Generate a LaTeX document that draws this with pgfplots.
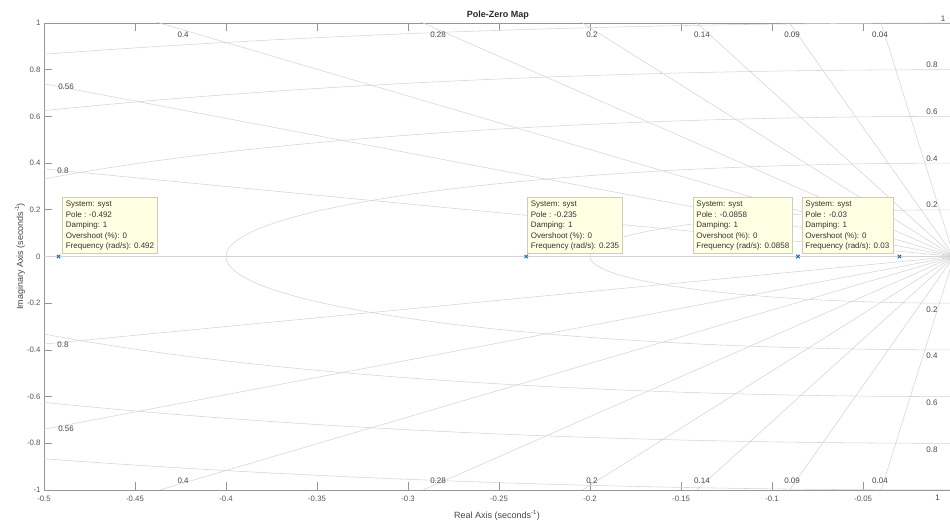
\documentclass[border=0pt]{standalone}
\usepackage{pgfplots}
\pgfplotsset{compat=1.18}
\usepackage{fontspec}
\setmainfont{Liberation Sans}
\definecolor{gridc}{RGB}{212,212,212}
\definecolor{tickc}{RGB}{85,85,85}
\definecolor{labc}{RGB}{70,70,70}
\definecolor{axc}{RGB}{150,150,150}
\definecolor{tipbg}{RGB}{255,255,228}
\definecolor{tipbd}{RGB}{205,205,190}
\definecolor{polec}{RGB}{0,114,189}
\tikzset{
  glab/.style={font=\fontsize{8}{9}\selectfont, text=labc, inner sep=0pt},
  tip/.style={draw=tipbd, fill=tipbg, font=\fontsize{8}{10.5}\selectfont, align=left, inner sep=3.5pt, text=black!80, line width=0.5pt},
}
\begin{document}
\begin{tikzpicture}
\useasboundingbox (-44pt,-32pt) rectangle (906pt,490pt);
\begin{axis}[
  at={(0pt,0pt)}, anchor=south west,
  scale only axis, width=906pt, height=467pt,
  xmin=-0.5, xmax=-0.0022, ymin=-1, ymax=1,
  axis x line*=box, axis y line*=left,
  axis line style={axc, line width=0.6pt, -},
  tick align=inside, major tick length=8pt,
  tick style={axc, line width=0.6pt},
  xtick={-0.5,-0.45,-0.4,-0.35,-0.3,-0.25,-0.2,-0.15,-0.1,-0.05},
  xticklabels={-0.5,-0.45,-0.4,-0.35,-0.3,-0.25,-0.2,-0.15,-0.1,-0.05},
  ytick={-1,-0.8,-0.6,-0.4,-0.2,0,0.2,0.4,0.6,0.8,1},
  yticklabels={-1,-0.8,-0.6,-0.4,-0.2,0,0.2,0.4,0.6,0.8,1},
  ticklabel style={font=\fontsize{7.8}{9}\selectfont, text=tickc},
  xticklabel style={yshift=-3pt},
  xlabel={Real Axis (seconds\textsuperscript{-1})},
  xlabel style={font=\fontsize{9}{10}\selectfont, text=labc, at={(0.5,-0.0535)}, anchor=center},
  ylabel={Imaginary Axis (seconds\textsuperscript{-1})},
  ylabel style={font=\fontsize{9}{10}\selectfont, text=labc, at={(-0.0265,0.5)}, anchor=center},
]
% natural frequency circles
\draw[gridc, line width=0.55pt] (axis cs:0,0) ellipse [x radius=0.2, y radius=0.2];
\draw[gridc, line width=0.55pt] (axis cs:0,0) ellipse [x radius=0.4, y radius=0.4];
\draw[gridc, line width=0.55pt] (axis cs:0,0) ellipse [x radius=0.6, y radius=0.6];
\draw[gridc, line width=0.55pt] (axis cs:0,0) ellipse [x radius=0.8, y radius=0.8];
\draw[gridc, line width=0.55pt] (axis cs:0,0) ellipse [x radius=1, y radius=1];
% damping rays
\addplot[gridc, line width=0.55pt] coordinates {(0,0) (-2,0)};
\addplot[gridc, line width=0.55pt] coordinates {(-0.08,1.9984) (0,0) (-0.08,-1.9984)};
\addplot[gridc, line width=0.55pt] coordinates {(-0.18,1.9919) (0,0) (-0.18,-1.9919)};
\addplot[gridc, line width=0.55pt] coordinates {(-0.28,1.9803) (0,0) (-0.28,-1.9803)};
\addplot[gridc, line width=0.55pt] coordinates {(-0.40,1.9596) (0,0) (-0.40,-1.9596)};
\addplot[gridc, line width=0.55pt] coordinates {(-0.56,1.9200) (0,0) (-0.56,-1.9200)};
\addplot[gridc, line width=0.55pt] coordinates {(-0.80,1.8330) (0,0) (-0.80,-1.8330)};
\addplot[gridc, line width=0.55pt] coordinates {(-1.12,1.6570) (0,0) (-1.12,-1.6570)};
\addplot[gridc, line width=0.55pt] coordinates {(-1.60,1.2000) (0,0) (-1.60,-1.2000)};
% damping labels
\node[glab] at (axis cs:-0.4236,0.949) {0.4};
\node[glab] at (axis cs:-0.2835,0.949) {0.28};
\node[glab] at (axis cs:-0.1989,0.949) {0.2};
\node[glab] at (axis cs:-0.1385,0.949) {0.14};
\node[glab] at (axis cs:-0.0890,0.949) {0.09};
\node[glab] at (axis cs:-0.0407,0.949) {0.04};
\node[glab] at (axis cs:-0.4236,-0.961) {0.4};
\node[glab] at (axis cs:-0.2835,-0.961) {0.28};
\node[glab] at (axis cs:-0.1989,-0.961) {0.2};
\node[glab] at (axis cs:-0.1385,-0.961) {0.14};
\node[glab] at (axis cs:-0.0890,-0.961) {0.09};
\node[glab] at (axis cs:-0.0407,-0.961) {0.04};
\node[glab] at (axis cs:-0.4879,0.726) {0.56};
\node[glab] at (axis cs:-0.4896,0.366) {0.8};
\node[glab] at (axis cs:-0.4896,-0.379) {0.8};
\node[glab] at (axis cs:-0.4879,-0.739) {0.56};
% frequency labels
\node[glab] at (axis cs:-0.0121,0.820) {0.8};
\node[glab] at (axis cs:-0.0121,0.619) {0.6};
\node[glab] at (axis cs:-0.0121,0.418) {0.4};
\node[glab] at (axis cs:-0.0121,0.221) {0.2};
\node[glab] at (axis cs:-0.0121,-0.226) {0.2};
\node[glab] at (axis cs:-0.0121,-0.426) {0.4};
\node[glab] at (axis cs:-0.0121,-0.627) {0.6};
\node[glab] at (axis cs:-0.0121,-0.829) {0.8};
\coordinate (fone) at (axis cs:-0.0060,1.020);
\coordinate (fonb) at (axis cs:-0.0090,-1.034);
\coordinate (ttl) at (rel axis cs:0.501,1);
% data tips
\node[tip, anchor=south west] at (axis cs:-0.4901,0.011) {System: syst\\Pole : -0.492\\Damping: 1\\Overshoot (\%): 0\\Frequency (rad/s): 0.492};
\node[tip, anchor=south west] at (axis cs:-0.2346,0.011) {System: syst\\Pole : -0.235\\Damping: 1\\Overshoot (\%): 0\\Frequency (rad/s): 0.235};
\node[tip, anchor=south east] at (axis cs:-0.0885,0.011) {System: syst\\Pole : -0.0858\\Damping: 1\\Overshoot (\%): 0\\Frequency (rad/s): 0.0858};
\node[tip, anchor=south east] at (axis cs:-0.0335,0.011) {System: syst\\Pole : -0.03\\Damping: 1\\Overshoot (\%): 0\\Frequency (rad/s): 0.03};
% poles
\addplot[only marks, mark=x, mark size=2.5pt, polec, line width=0.9pt] coordinates {(-0.492,0) (-0.235,0) (-0.0858,0) (-0.03,0)};
\end{axis}
\node[glab] at (fone) {1};
\node[glab] at (fonb) {1};
\node[font=\bfseries\fontsize{9}{10}\selectfont, text=black!85] at ([yshift=8pt]ttl) {Pole-Zero Map};
\end{tikzpicture}
\end{document}
